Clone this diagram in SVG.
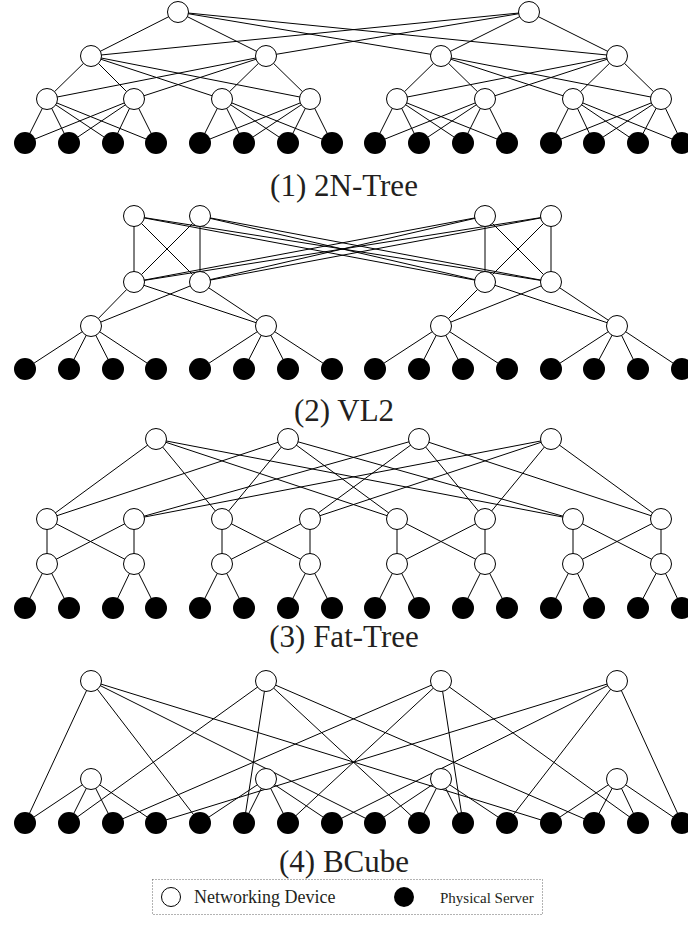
<svg xmlns="http://www.w3.org/2000/svg" width="688" height="930" viewBox="0 0 688 930">
  <style>
    .sw { fill: #ffffff; stroke: #000000; stroke-width: 1; }
    .srv { fill: #000000; stroke: none; }
    .link { fill: none; stroke: #000000; stroke-width: 1; }
    .cap { font-family: "Liberation Serif", "Times New Roman", serif; font-size: 31px; fill: #231f20; text-anchor: middle; }
    .leg { font-family: "Liberation Serif", "Times New Roman", serif; font-size: 18px; fill: #231f20; }
    .box { fill: none; stroke: #666666; stroke-width: 1; stroke-dasharray: 1 2; }
  </style>
  <rect width="688" height="930" fill="#ffffff"/>

  <!-- connectors -->
  <g id="connectors" class="link">
    <!-- (1) 2N-Tree -->
    <path d="M178 12L91 56M178 12L266 56M178 12L441 56M178 12L617 56
             M529 12L91 56M529 12L266 56M529 12L441 56M529 12L617 56
             M91 56L47 99M91 56L134 99M91 56L222 99M91 56L310 99
             M266 56L47 99M266 56L134 99M266 56L222 99M266 56L310 99
             M441 56L397 99M441 56L485 99M441 56L573 99M441 56L661 99
             M617 56L397 99M617 56L485 99M617 56L573 99M617 56L661 99
             M47 99L25 143M47 99L69 143M47 99L113 143M47 99L156 143
             M134 99L25 143M134 99L69 143M134 99L113 143M134 99L156 143
             M222 99L200 143M222 99L244 143M222 99L288 143M222 99L332 143
             M310 99L200 143M310 99L244 143M310 99L288 143M310 99L332 143
             M397 99L375 143M397 99L419 143M397 99L463 143M397 99L507 143
             M485 99L375 143M485 99L419 143M485 99L463 143M485 99L507 143
             M573 99L551 143M573 99L594 143M573 99L638 143M573 99L682 143
             M661 99L551 143M661 99L594 143M661 99L638 143M661 99L682 143"/>
    <!-- (2) VL2 -->
    <path d="M134 216L134 282M134 216L200 282M134 216L485 282M134 216L551 282
             M200 216L134 282M200 216L200 282M200 216L485 282M200 216L551 282
             M485 216L134 282M485 216L200 282M485 216L485 282M485 216L551 282
             M551 216L134 282M551 216L200 282M551 216L485 282M551 216L551 282
             M134 282L91 326M134 282L266 326M200 282L91 326M200 282L266 326
             M485 282L441 326M485 282L617 326M551 282L441 326M551 282L617 326
             M91 326L25 369M91 326L69 369M91 326L113 369M91 326L156 369
             M266 326L200 369M266 326L244 369M266 326L288 369M266 326L332 369
             M441 326L375 369M441 326L419 369M441 326L463 369M441 326L507 369
             M617 326L551 369M617 326L594 369M617 326L638 369M617 326L682 369"/>
    <!-- (3) Fat-Tree -->
    <path d="M156 439L47 519M156 439L222 519M156 439L397 519M156 439L573 519
             M288 439L47 519M288 439L222 519M288 439L397 519M288 439L573 519
             M419 439L134 519M419 439L310 519M419 439L485 519M419 439L661 519
             M551 439L134 519M551 439L310 519M551 439L485 519M551 439L661 519
             M47 519L47 564M47 519L134 564M134 519L47 564M134 519L134 564
             M222 519L222 564M222 519L310 564M310 519L222 564M310 519L310 564
             M397 519L397 564M397 519L485 564M485 519L397 564M485 519L485 564
             M573 519L573 564M573 519L661 564M661 519L573 564M661 519L661 564
             M47 564L25 608M47 564L69 608M134 564L113 608M134 564L156 608
             M222 564L200 608M222 564L244 608M310 564L288 608M310 564L332 608
             M397 564L375 608M397 564L419 608M485 564L463 608M485 564L507 608
             M573 564L551 608M573 564L594 608M661 564L638 608M661 564L682 608"/>
    <!-- (4) BCube -->
    <path d="M91 779L25 823M91 779L69 823M91 779L113 823M91 779L156 823
             M266 779L200 823M266 779L244 823M266 779L288 823M266 779L332 823
             M441 779L375 823M441 779L419 823M441 779L463 823M441 779L507 823
             M617 779L551 823M617 779L594 823M617 779L638 823M617 779L682 823
             M91 681L25 823M91 681L200 823M91 681L375 823M91 681L551 823
             M266 681L69 823M266 681L244 823M266 681L419 823M266 681L594 823
             M441 681L113 823M441 681L288 823M441 681L463 823M441 681L638 823
             M617 681L156 823M617 681L332 823M617 681L507 823M617 681L682 823"/>
  </g>

  <!-- (1) 2N-Tree nodes -->
  <g id="ntree-top-1"><circle class="sw" cx="178" cy="12" r="10.5"/></g>
  <g id="ntree-top-2"><circle class="sw" cx="529" cy="12" r="10.5"/></g>
  <g id="ntree-l2-1"><circle class="sw" cx="91" cy="56" r="10.5"/></g>
  <g id="ntree-l2-2"><circle class="sw" cx="266" cy="56" r="10.5"/></g>
  <g id="ntree-l2-3"><circle class="sw" cx="441" cy="56" r="10.5"/></g>
  <g id="ntree-l2-4"><circle class="sw" cx="617" cy="56" r="10.5"/></g>
  <g id="ntree-l3-1"><circle class="sw" cx="47" cy="99" r="10.5"/></g>
  <g id="ntree-l3-2"><circle class="sw" cx="134" cy="99" r="10.5"/></g>
  <g id="ntree-l3-3"><circle class="sw" cx="222" cy="99" r="10.5"/></g>
  <g id="ntree-l3-4"><circle class="sw" cx="310" cy="99" r="10.5"/></g>
  <g id="ntree-l3-5"><circle class="sw" cx="397" cy="99" r="10.5"/></g>
  <g id="ntree-l3-6"><circle class="sw" cx="485" cy="99" r="10.5"/></g>
  <g id="ntree-l3-7"><circle class="sw" cx="573" cy="99" r="10.5"/></g>
  <g id="ntree-l3-8"><circle class="sw" cx="661" cy="99" r="10.5"/></g>
  <g id="ntree-srv-0"><circle class="srv" cx="25" cy="143" r="11"/></g>
  <g id="ntree-srv-1"><circle class="srv" cx="69" cy="143" r="11"/></g>
  <g id="ntree-srv-2"><circle class="srv" cx="113" cy="143" r="11"/></g>
  <g id="ntree-srv-3"><circle class="srv" cx="156" cy="143" r="11"/></g>
  <g id="ntree-srv-4"><circle class="srv" cx="200" cy="143" r="11"/></g>
  <g id="ntree-srv-5"><circle class="srv" cx="244" cy="143" r="11"/></g>
  <g id="ntree-srv-6"><circle class="srv" cx="288" cy="143" r="11"/></g>
  <g id="ntree-srv-7"><circle class="srv" cx="332" cy="143" r="11"/></g>
  <g id="ntree-srv-8"><circle class="srv" cx="375" cy="143" r="11"/></g>
  <g id="ntree-srv-9"><circle class="srv" cx="419" cy="143" r="11"/></g>
  <g id="ntree-srv-10"><circle class="srv" cx="463" cy="143" r="11"/></g>
  <g id="ntree-srv-11"><circle class="srv" cx="507" cy="143" r="11"/></g>
  <g id="ntree-srv-12"><circle class="srv" cx="551" cy="143" r="11"/></g>
  <g id="ntree-srv-13"><circle class="srv" cx="594" cy="143" r="11"/></g>
  <g id="ntree-srv-14"><circle class="srv" cx="638" cy="143" r="11"/></g>
  <g id="ntree-srv-15"><circle class="srv" cx="682" cy="143" r="11"/></g>
  <text class="cap" x="344" y="196">(1) 2N-Tree</text>

  <!-- (2) VL2 nodes -->
  <g id="vl2-int-1"><circle class="sw" cx="134" cy="216" r="10.5"/></g>
  <g id="vl2-int-2"><circle class="sw" cx="200" cy="216" r="10.5"/></g>
  <g id="vl2-int-3"><circle class="sw" cx="485" cy="216" r="10.5"/></g>
  <g id="vl2-int-4"><circle class="sw" cx="551" cy="216" r="10.5"/></g>
  <g id="vl2-agg-1"><circle class="sw" cx="134" cy="282" r="10.5"/></g>
  <g id="vl2-agg-2"><circle class="sw" cx="200" cy="282" r="10.5"/></g>
  <g id="vl2-agg-3"><circle class="sw" cx="485" cy="282" r="10.5"/></g>
  <g id="vl2-agg-4"><circle class="sw" cx="551" cy="282" r="10.5"/></g>
  <g id="vl2-tor-1"><circle class="sw" cx="91" cy="326" r="10.5"/></g>
  <g id="vl2-tor-2"><circle class="sw" cx="266" cy="326" r="10.5"/></g>
  <g id="vl2-tor-3"><circle class="sw" cx="441" cy="326" r="10.5"/></g>
  <g id="vl2-tor-4"><circle class="sw" cx="617" cy="326" r="10.5"/></g>
  <g id="vl2-srv-0"><circle class="srv" cx="25" cy="369" r="11"/></g>
  <g id="vl2-srv-1"><circle class="srv" cx="69" cy="369" r="11"/></g>
  <g id="vl2-srv-2"><circle class="srv" cx="113" cy="369" r="11"/></g>
  <g id="vl2-srv-3"><circle class="srv" cx="156" cy="369" r="11"/></g>
  <g id="vl2-srv-4"><circle class="srv" cx="200" cy="369" r="11"/></g>
  <g id="vl2-srv-5"><circle class="srv" cx="244" cy="369" r="11"/></g>
  <g id="vl2-srv-6"><circle class="srv" cx="288" cy="369" r="11"/></g>
  <g id="vl2-srv-7"><circle class="srv" cx="332" cy="369" r="11"/></g>
  <g id="vl2-srv-8"><circle class="srv" cx="375" cy="369" r="11"/></g>
  <g id="vl2-srv-9"><circle class="srv" cx="419" cy="369" r="11"/></g>
  <g id="vl2-srv-10"><circle class="srv" cx="463" cy="369" r="11"/></g>
  <g id="vl2-srv-11"><circle class="srv" cx="507" cy="369" r="11"/></g>
  <g id="vl2-srv-12"><circle class="srv" cx="551" cy="369" r="11"/></g>
  <g id="vl2-srv-13"><circle class="srv" cx="594" cy="369" r="11"/></g>
  <g id="vl2-srv-14"><circle class="srv" cx="638" cy="369" r="11"/></g>
  <g id="vl2-srv-15"><circle class="srv" cx="682" cy="369" r="11"/></g>
  <text class="cap" x="344" y="421">(2) VL2</text>

  <!-- (3) Fat-Tree nodes -->
  <g id="fat-core-1"><circle class="sw" cx="156" cy="439" r="10.5"/></g>
  <g id="fat-core-2"><circle class="sw" cx="288" cy="439" r="10.5"/></g>
  <g id="fat-core-3"><circle class="sw" cx="419" cy="439" r="10.5"/></g>
  <g id="fat-core-4"><circle class="sw" cx="551" cy="439" r="10.5"/></g>
  <g id="fat-agg-1"><circle class="sw" cx="47" cy="519" r="10.5"/></g>
  <g id="fat-agg-2"><circle class="sw" cx="134" cy="519" r="10.5"/></g>
  <g id="fat-agg-3"><circle class="sw" cx="222" cy="519" r="10.5"/></g>
  <g id="fat-agg-4"><circle class="sw" cx="310" cy="519" r="10.5"/></g>
  <g id="fat-agg-5"><circle class="sw" cx="397" cy="519" r="10.5"/></g>
  <g id="fat-agg-6"><circle class="sw" cx="485" cy="519" r="10.5"/></g>
  <g id="fat-agg-7"><circle class="sw" cx="573" cy="519" r="10.5"/></g>
  <g id="fat-agg-8"><circle class="sw" cx="661" cy="519" r="10.5"/></g>
  <g id="fat-edge-1"><circle class="sw" cx="47" cy="564" r="10.5"/></g>
  <g id="fat-edge-2"><circle class="sw" cx="134" cy="564" r="10.5"/></g>
  <g id="fat-edge-3"><circle class="sw" cx="222" cy="564" r="10.5"/></g>
  <g id="fat-edge-4"><circle class="sw" cx="310" cy="564" r="10.5"/></g>
  <g id="fat-edge-5"><circle class="sw" cx="397" cy="564" r="10.5"/></g>
  <g id="fat-edge-6"><circle class="sw" cx="485" cy="564" r="10.5"/></g>
  <g id="fat-edge-7"><circle class="sw" cx="573" cy="564" r="10.5"/></g>
  <g id="fat-edge-8"><circle class="sw" cx="661" cy="564" r="10.5"/></g>
  <g id="fat-srv-0"><circle class="srv" cx="25" cy="608" r="11"/></g>
  <g id="fat-srv-1"><circle class="srv" cx="69" cy="608" r="11"/></g>
  <g id="fat-srv-2"><circle class="srv" cx="113" cy="608" r="11"/></g>
  <g id="fat-srv-3"><circle class="srv" cx="156" cy="608" r="11"/></g>
  <g id="fat-srv-4"><circle class="srv" cx="200" cy="608" r="11"/></g>
  <g id="fat-srv-5"><circle class="srv" cx="244" cy="608" r="11"/></g>
  <g id="fat-srv-6"><circle class="srv" cx="288" cy="608" r="11"/></g>
  <g id="fat-srv-7"><circle class="srv" cx="332" cy="608" r="11"/></g>
  <g id="fat-srv-8"><circle class="srv" cx="375" cy="608" r="11"/></g>
  <g id="fat-srv-9"><circle class="srv" cx="419" cy="608" r="11"/></g>
  <g id="fat-srv-10"><circle class="srv" cx="463" cy="608" r="11"/></g>
  <g id="fat-srv-11"><circle class="srv" cx="507" cy="608" r="11"/></g>
  <g id="fat-srv-12"><circle class="srv" cx="551" cy="608" r="11"/></g>
  <g id="fat-srv-13"><circle class="srv" cx="594" cy="608" r="11"/></g>
  <g id="fat-srv-14"><circle class="srv" cx="638" cy="608" r="11"/></g>
  <g id="fat-srv-15"><circle class="srv" cx="682" cy="608" r="11"/></g>
  <text class="cap" x="344" y="647">(3) Fat-Tree</text>

  <!-- (4) BCube nodes -->
  <g id="bcube-l1-1"><circle class="sw" cx="91" cy="681" r="10.5"/></g>
  <g id="bcube-l1-2"><circle class="sw" cx="266" cy="681" r="10.5"/></g>
  <g id="bcube-l1-3"><circle class="sw" cx="441" cy="681" r="10.5"/></g>
  <g id="bcube-l1-4"><circle class="sw" cx="617" cy="681" r="10.5"/></g>
  <g id="bcube-l0-1"><circle class="sw" cx="91" cy="779" r="10.5"/></g>
  <g id="bcube-l0-2"><circle class="sw" cx="266" cy="779" r="10.5"/></g>
  <g id="bcube-l0-3"><circle class="sw" cx="441" cy="779" r="10.5"/></g>
  <g id="bcube-l0-4"><circle class="sw" cx="617" cy="779" r="10.5"/></g>
  <g id="bcube-srv-0"><circle class="srv" cx="25" cy="823" r="11"/></g>
  <g id="bcube-srv-1"><circle class="srv" cx="69" cy="823" r="11"/></g>
  <g id="bcube-srv-2"><circle class="srv" cx="113" cy="823" r="11"/></g>
  <g id="bcube-srv-3"><circle class="srv" cx="156" cy="823" r="11"/></g>
  <g id="bcube-srv-4"><circle class="srv" cx="200" cy="823" r="11"/></g>
  <g id="bcube-srv-5"><circle class="srv" cx="244" cy="823" r="11"/></g>
  <g id="bcube-srv-6"><circle class="srv" cx="288" cy="823" r="11"/></g>
  <g id="bcube-srv-7"><circle class="srv" cx="332" cy="823" r="11"/></g>
  <g id="bcube-srv-8"><circle class="srv" cx="375" cy="823" r="11"/></g>
  <g id="bcube-srv-9"><circle class="srv" cx="419" cy="823" r="11"/></g>
  <g id="bcube-srv-10"><circle class="srv" cx="463" cy="823" r="11"/></g>
  <g id="bcube-srv-11"><circle class="srv" cx="507" cy="823" r="11"/></g>
  <g id="bcube-srv-12"><circle class="srv" cx="551" cy="823" r="11"/></g>
  <g id="bcube-srv-13"><circle class="srv" cx="594" cy="823" r="11"/></g>
  <g id="bcube-srv-14"><circle class="srv" cx="638" cy="823" r="11"/></g>
  <g id="bcube-srv-15"><circle class="srv" cx="682" cy="823" r="11"/></g>
  <text class="cap" x="344" y="872">(4) BCube</text>

  <!-- legend -->
  <g id="legend">
    <rect class="box" x="152.5" y="879.5" width="390" height="35"/>
    <circle class="sw" cx="171" cy="897" r="9.5"/>
    <text class="leg" x="194" y="903">Networking Device</text>
    <circle class="srv" cx="404" cy="897" r="10"/>
    <text class="leg" x="440" y="903" style="font-size:15px">Physical Server</text>
  </g>
</svg>
